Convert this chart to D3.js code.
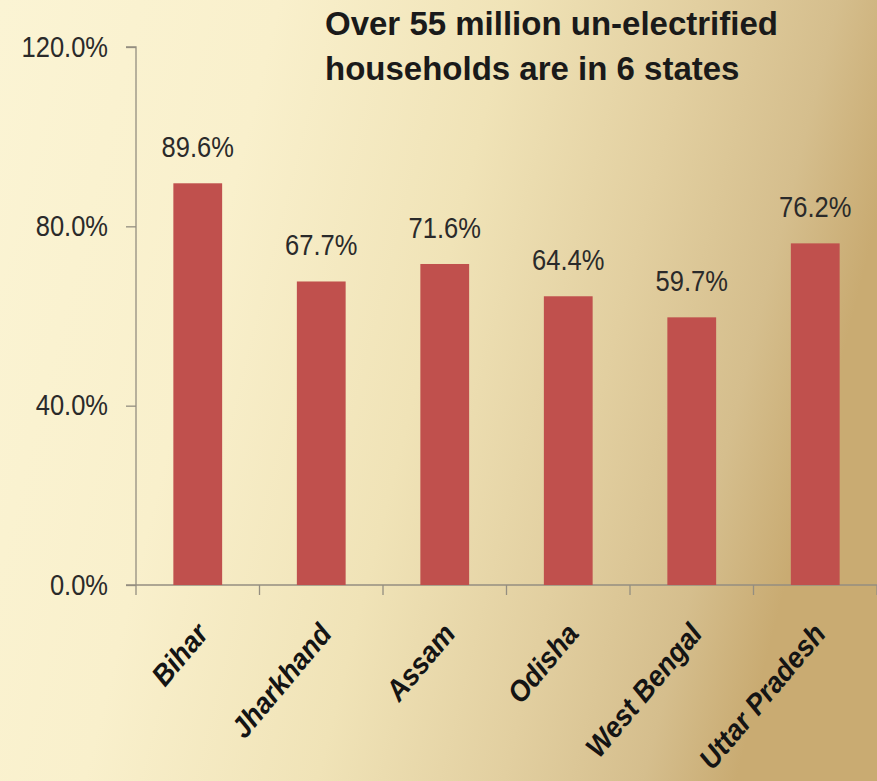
<!DOCTYPE html>
<html>
<head>
<meta charset="utf-8">
<script src="https://cdn.jsdelivr.net/npm/d3@7"></script>
<style>
  html, body { margin: 0; padding: 0; background: #f6eccb; }
  svg { display: block; }
</style>
</head>
<body>
<svg id="chart" width="877" height="781"></svg>
<script>
// Share of un-electrified households by state
const states = ["Bihar", "Jharkhand", "Assam", "Odisha", "West Bengal", "Uttar Pradesh"];
const shares = [89.6, 67.7, 71.6, 64.4, 59.7, 76.2];
const yTicks = [0, 40, 80, 120];
const titleLines = ["Over 55 million un-electrified", "households are in 6 states"];

const W = 877, H = 781;
const svg = d3.select("#chart");

// Warm paper backdrop, darkening toward the right
const defs = svg.append("defs");
const grad = defs.append("linearGradient")
  .attr("id", "bg").attr("gradientUnits", "userSpaceOnUse")
  .attr("x1", 0).attr("y1", 0).attr("x2", W).attr("y2", 220);
[[0, "#fbf4d4"], [0.3, "#f9f0cc"], [0.55, "#f0e3b7"], [0.75, "#e2cfa0"], [0.9, "#d5be8d"], [1, "#c9ab72"]]
  .forEach(([o, c]) => grad.append("stop").attr("offset", o).attr("stop-color", c));
svg.append("rect").attr("width", W).attr("height", H).attr("fill", "url(#bg)");

const x = d3.scaleBand().domain(states).range([136, 877]).padding(0);
const y = d3.scaleLinear().domain([0, 120]).range([585, 47]);
const barW = x.bandwidth() * 0.395;

const sans = "'Liberation Sans', Arial, sans-serif";
const squeeze = 0.85;          // narrow the numeric labels horizontally
const axisColor = "#948e80";

// Y axis
const yAxis = svg.append("g").attr("transform", "translate(136,0)")
  .call(d3.axisLeft(y).tickValues(yTicks).tickSize(10).tickPadding(18)
    .tickFormat(d => d.toFixed(1) + "%"));
yAxis.select(".domain").attr("stroke", axisColor).attr("stroke-width", 1.3)
  .attr("d", `M-10,${y(120)}H0V${y(0)}`);
yAxis.selectAll(".tick line").attr("stroke", axisColor).attr("stroke-width", 1.3);
yAxis.selectAll(".tick text")
  .attr("font-family", sans).attr("font-size", 30).attr("fill", "#2a2a2a")
  .attr("x", -28 / squeeze)
  .attr("transform", `scale(${squeeze},1)`)
  .attr("dy", "0.3em");

// X axis with ticks at the category boundaries
const boundaries = states.map(s => x(s)).concat([x.range()[1]]);
const xAxis = svg.append("g");
xAxis.append("line")
  .attr("x1", 126).attr("x2", x.range()[1])
  .attr("y1", y(0)).attr("y2", y(0))
  .attr("stroke", axisColor).attr("stroke-width", 1.3);
xAxis.selectAll("line.bt").data(boundaries).join("line")
  .attr("class", "bt")
  .attr("x1", d => d).attr("x2", d => d)
  .attr("y1", y(0)).attr("y2", y(0) + 10)
  .attr("stroke", axisColor).attr("stroke-width", 1.3);

// Bars
svg.append("g").selectAll("rect").data(states).join("rect")
  .attr("x", (d) => x(d) + x.bandwidth() / 2 - barW / 2)
  .attr("y", (d, i) => y(shares[i]))
  .attr("width", barW)
  .attr("height", (d, i) => y(0) - y(shares[i]))
  .attr("fill", "#c0504d");

// Value labels
svg.append("g").selectAll("text").data(states).join("text")
  .attr("transform", (d, i) =>
    `translate(${x(d) + x.bandwidth() / 2},${y(shares[i]) - 26}) scale(${squeeze},1)`)
  .attr("text-anchor", "middle")
  .attr("font-family", sans).attr("font-size", 30).attr("fill", "#2a2a2a")
  .text((d, i) => shares[i].toFixed(1) + "%");

// Category labels, slanted
svg.append("g").selectAll("text").data(states).join("text")
  .attr("transform", d => `translate(${x(d) + x.bandwidth() / 2 - 4},621) rotate(-50) scale(0.94,1)`)
  .attr("text-anchor", "end")
  .attr("dy", "0.72em")
  .attr("font-family", sans)
  .attr("font-weight", "bold").attr("font-style", "italic")
  .attr("font-size", 29).attr("fill", "#141414")
  .text(d => d);

// Title
svg.append("g").selectAll("text").data(titleLines).join("text")
  .attr("x", 325)
  .attr("y", (d, i) => 35 + i * 45)
  .attr("font-family", sans)
  .attr("font-weight", "bold").attr("font-size", 33).attr("fill", "#1a1a1a")
  .text(d => d);
</script>
</body>
</html>
